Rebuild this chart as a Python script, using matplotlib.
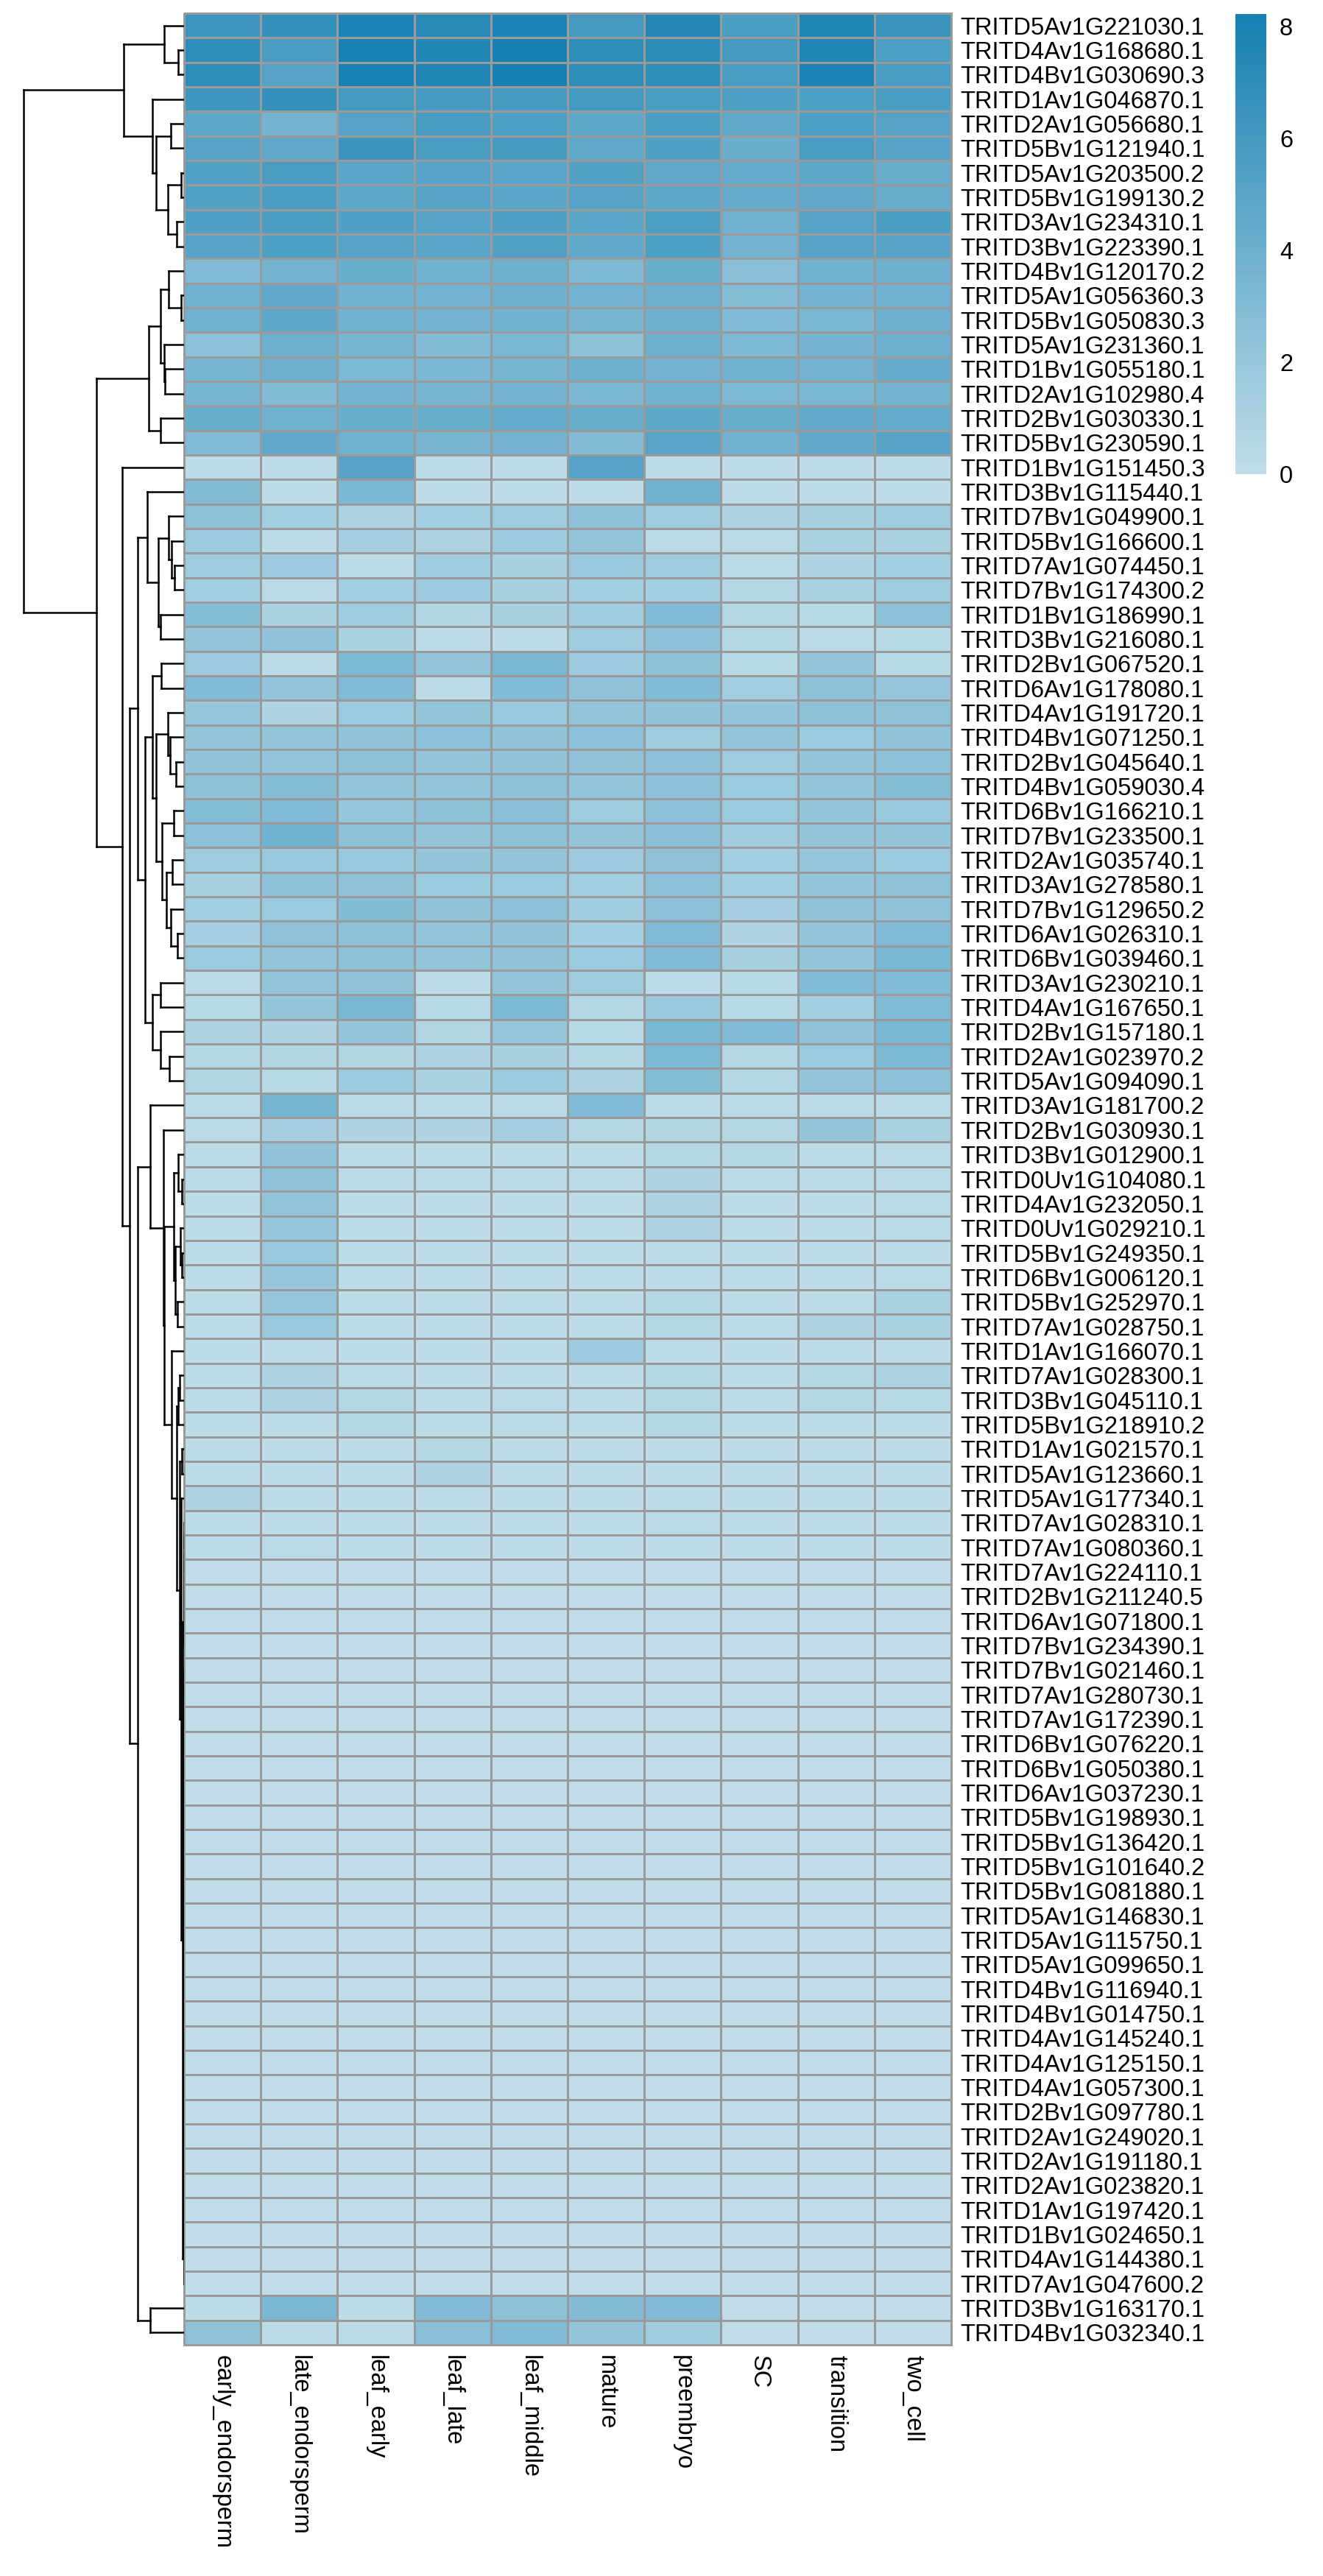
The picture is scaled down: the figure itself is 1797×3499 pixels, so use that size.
import matplotlib
matplotlib.use("Agg")
import matplotlib.pyplot as plt
from matplotlib.colors import LinearSegmentedColormap, Normalize
from matplotlib.collections import LineCollection
from matplotlib.cm import ScalarMappable
import numpy as np

plt.rcParams['font.family'] = ['Liberation Sans', 'DejaVu Sans']

stages = ["early_endorsperm", "late_endorsperm", "leaf_early", "leaf_late",
          "leaf_middle", "mature", "preembryo", "SC", "transition", "two_cell"]

genes = [
    "TRITD5Av1G221030.1", "TRITD4Av1G168680.1", "TRITD4Bv1G030690.3", "TRITD1Av1G046870.1",
    "TRITD2Av1G056680.1", "TRITD5Bv1G121940.1", "TRITD5Av1G203500.2", "TRITD5Bv1G199130.2",
    "TRITD3Av1G234310.1", "TRITD3Bv1G223390.1", "TRITD4Bv1G120170.2", "TRITD5Av1G056360.3",
    "TRITD5Bv1G050830.3", "TRITD5Av1G231360.1", "TRITD1Bv1G055180.1", "TRITD2Av1G102980.4",
    "TRITD2Bv1G030330.1", "TRITD5Bv1G230590.1", "TRITD1Bv1G151450.3", "TRITD3Bv1G115440.1",
    "TRITD7Bv1G049900.1", "TRITD5Bv1G166600.1", "TRITD7Av1G074450.1", "TRITD7Bv1G174300.2",
    "TRITD1Bv1G186990.1", "TRITD3Bv1G216080.1", "TRITD2Bv1G067520.1", "TRITD6Av1G178080.1",
    "TRITD4Av1G191720.1", "TRITD4Bv1G071250.1", "TRITD2Bv1G045640.1", "TRITD4Bv1G059030.4",
    "TRITD6Bv1G166210.1", "TRITD7Bv1G233500.1", "TRITD2Av1G035740.1", "TRITD3Av1G278580.1",
    "TRITD7Bv1G129650.2", "TRITD6Av1G026310.1", "TRITD6Bv1G039460.1", "TRITD3Av1G230210.1",
    "TRITD4Av1G167650.1", "TRITD2Bv1G157180.1", "TRITD2Av1G023970.2", "TRITD5Av1G094090.1",
    "TRITD3Av1G181700.2", "TRITD2Bv1G030930.1", "TRITD3Bv1G012900.1", "TRITD0Uv1G104080.1",
    "TRITD4Av1G232050.1", "TRITD0Uv1G029210.1", "TRITD5Bv1G249350.1", "TRITD6Bv1G006120.1",
    "TRITD5Bv1G252970.1", "TRITD7Av1G028750.1", "TRITD1Av1G166070.1", "TRITD7Av1G028300.1",
    "TRITD3Bv1G045110.1", "TRITD5Bv1G218910.2", "TRITD1Av1G021570.1", "TRITD5Av1G123660.1",
    "TRITD5Av1G177340.1", "TRITD7Av1G028310.1", "TRITD7Av1G080360.1", "TRITD7Av1G224110.1",
    "TRITD2Bv1G211240.5", "TRITD6Av1G071800.1", "TRITD7Bv1G234390.1", "TRITD7Bv1G021460.1",
    "TRITD7Av1G280730.1", "TRITD7Av1G172390.1", "TRITD6Bv1G076220.1", "TRITD6Bv1G050380.1",
    "TRITD6Av1G037230.1", "TRITD5Bv1G198930.1", "TRITD5Bv1G136420.1", "TRITD5Bv1G101640.2",
    "TRITD5Bv1G081880.1", "TRITD5Av1G146830.1", "TRITD5Av1G115750.1", "TRITD5Av1G099650.1",
    "TRITD4Bv1G116940.1", "TRITD4Bv1G014750.1", "TRITD4Av1G145240.1", "TRITD4Av1G125150.1",
    "TRITD4Av1G057300.1", "TRITD2Bv1G097780.1", "TRITD2Av1G249020.1", "TRITD2Av1G191180.1",
    "TRITD2Av1G023820.1", "TRITD1Av1G197420.1", "TRITD1Bv1G024650.1", "TRITD4Av1G144380.1",
    "TRITD7Av1G047600.2", "TRITD3Bv1G163170.1", "TRITD4Bv1G032340.1",
]

# log expression per gene (rows, same order as genes) and stage (columns)
expression = [
    [6.3, 6.8, 7.9, 7.3, 7.9, 6.0, 7.5, 5.6, 7.7, 6.5],
    [7.0, 5.7, 8.0, 7.6, 8.22, 7.0, 7.1, 5.9, 7.7, 5.5],
    [7.0, 5.2, 8.1, 7.7, 8.2, 7.0, 7.0, 5.7, 7.9, 5.7],
    [6.2, 6.7, 6.0, 5.9, 5.9, 6.0, 5.7, 5.4, 5.5, 5.7],
    [4.8, 3.6, 5.2, 5.8, 5.5, 4.8, 5.6, 4.7, 5.5, 5.2],
    [5.1, 4.7, 6.4, 5.7, 5.9, 4.7, 5.4, 4.1, 5.7, 5.1],
    [5.3, 5.7, 4.9, 5.1, 5.0, 5.3, 4.7, 4.3, 4.8, 4.2],
    [5.3, 5.6, 4.8, 5.1, 4.9, 5.2, 4.8, 4.3, 4.6, 4.2],
    [5.4, 5.6, 5.4, 5.1, 5.4, 4.9, 5.5, 3.9, 5.2, 5.6],
    [5.1, 5.5, 5.2, 4.9, 5.3, 4.6, 5.5, 3.7, 5.1, 5.1],
    [3.1, 3.7, 4.1, 3.8, 4.0, 3.2, 4.2, 2.7, 3.8, 4.0],
    [3.8, 4.6, 3.8, 3.7, 4.0, 3.7, 4.0, 2.8, 3.6, 3.9],
    [3.8, 4.8, 3.8, 3.7, 3.8, 3.5, 4.0, 3.0, 3.3, 4.0],
    [2.6, 4.0, 3.5, 2.9, 3.4, 2.5, 4.0, 3.2, 3.6, 4.0],
    [3.5, 4.0, 3.2, 3.3, 3.5, 4.0, 3.7, 3.9, 3.7, 4.3],
    [3.5, 2.9, 3.6, 3.5, 3.7, 3.3, 3.8, 3.2, 3.4, 3.7],
    [4.2, 3.9, 4.1, 4.1, 4.3, 4.2, 4.8, 4.1, 4.5, 4.4],
    [3.0, 4.6, 3.9, 3.5, 3.7, 2.9, 5.0, 3.8, 4.6, 5.1],
    [0.1, 0.1, 5.1, 0.1, 0.1, 5.1, 0.1, 0.1, 0.1, 0.1],
    [2.9, 0.1, 3.3, 0.1, 0.1, 0.1, 3.8, 0.1, 0.1, 0.1],
    [2.5, 1.4, 0.9, 1.4, 1.6, 2.5, 1.6, 0.9, 1.2, 1.5],
    [1.7, 0.2, 1.3, 0.9, 1.7, 2.2, 0.3, 0.3, 1.0, 1.1],
    [1.6, 1.7, 0.2, 1.5, 1.2, 1.9, 1.6, 0.3, 0.8, 1.4],
    [1.4, 0.3, 1.4, 1.7, 1.2, 1.4, 1.4, 0.6, 1.1, 1.6],
    [2.8, 1.0, 1.6, 0.7, 1.2, 1.5, 3.0, 0.6, 0.4, 2.6],
    [2.2, 2.3, 1.0, 0.1, 0.1, 1.5, 2.6, 0.6, 0.3, 0.4],
    [1.7, 0.2, 3.2, 2.2, 3.4, 1.7, 2.5, 0.4, 2.2, 0.4],
    [3.0, 2.1, 3.1, 0.1, 3.0, 2.4, 3.1, 1.4, 2.5, 2.0],
    [2.0, 0.8, 1.8, 2.2, 1.9, 2.2, 2.3, 2.1, 2.5, 2.4],
    [2.2, 2.2, 2.3, 2.6, 2.3, 2.6, 1.5, 2.2, 1.8, 2.3],
    [2.3, 2.2, 2.5, 2.2, 2.3, 2.4, 2.6, 1.6, 2.2, 2.6],
    [2.5, 2.8, 2.2, 2.2, 2.5, 2.2, 2.6, 1.8, 2.1, 2.8],
    [2.8, 3.1, 2.0, 2.5, 2.7, 1.6, 2.6, 1.8, 2.1, 1.9],
    [2.6, 3.8, 2.5, 2.2, 2.5, 2.2, 2.7, 1.5, 2.2, 2.1],
    [1.6, 1.9, 1.9, 2.1, 2.2, 1.7, 2.4, 1.4, 2.0, 1.8],
    [1.2, 2.5, 2.4, 1.8, 1.8, 1.4, 2.6, 1.4, 2.1, 2.4],
    [1.4, 1.8, 2.9, 2.4, 2.6, 1.5, 2.6, 1.3, 2.4, 2.4],
    [1.3, 2.4, 2.5, 2.2, 2.3, 1.4, 3.1, 0.8, 2.2, 3.1],
    [1.8, 2.2, 2.5, 2.2, 2.3, 1.8, 3.1, 1.2, 2.1, 3.4],
    [0.3, 2.2, 2.4, 0.2, 2.2, 1.6, 0.2, 0.4, 3.1, 3.0],
    [0.4, 2.1, 3.4, 0.4, 3.2, 0.5, 1.9, 0.4, 1.4, 3.1],
    [0.9, 0.8, 2.1, 0.7, 2.0, 0.4, 3.4, 3.1, 2.4, 3.4],
    [0.6, 0.7, 0.7, 0.9, 1.2, 0.5, 3.2, 0.5, 1.8, 3.2],
    [0.7, 0.4, 1.8, 1.0, 1.8, 0.9, 2.8, 0.6, 2.2, 2.6],
    [0.3, 3.5, 0.3, 0.2, 0.3, 3.0, 0.2, 0.3, 0.3, 0.2],
    [0.3, 1.3, 0.8, 0.8, 1.3, 0.6, 0.7, 0.5, 2.1, 1.1],
    [0.2, 2.3, 0.2, 0.1, 0.2, 0.1, 0.5, 0.5, 0.2, 0.3],
    [0.2, 2.4, 0.2, 0.2, 0.2, 0.2, 0.8, 0.2, 0.2, 0.3],
    [0.1, 2.2, 0.1, 0.1, 0.1, 0.1, 0.9, 0.1, 0.1, 0.2],
    [0.1, 2.0, 0.1, 0.1, 0.1, 0.1, 0.9, 0.1, 0.1, 0.2],
    [0.1, 1.9, 0.1, 0.1, 0.1, 0.1, 0.2, 0.1, 0.1, 0.1],
    [0.1, 2.0, 0.1, 0.1, 0.1, 0.1, 0.2, 0.2, 0.1, 0.3],
    [0.1, 2.0, 0.1, 0.1, 0.1, 0.1, 0.6, 0.1, 0.1, 1.1],
    [0.1, 1.9, 0.1, 0.1, 0.1, 0.1, 0.6, 0.1, 0.9, 1.0],
    [0.1, 0.1, 0.1, 0.1, 0.1, 1.7, 0.1, 0.1, 0.1, 0.1],
    [0.1, 0.9, 0.1, 0.1, 0.1, 0.1, 0.6, 0.1, 0.6, 0.9],
    [0.1, 0.9, 0.6, 0.1, 0.3, 0.1, 0.6, 0.1, 0.6, 0.4],
    [0.1, 0.1, 0.6, 0.1, 0.3, 0.1, 0.6, 0.1, 0.2, 0.1],
    [0.1, 0.1, 0.1, 0.6, 0.1, 0.1, 0.1, 0.1, 0.1, 0.1],
    [0.1, 0.1, 0.1, 0.8, 0.1, 0.1, 0.1, 0.1, 0.1, 0.1],
    [0.8, 0.1, 0.1, 0.1, 0.1, 0.1, 0.1, 0.1, 0.1, 0.1],
    [0.1, 0.1, 0.1, 0.1, 0.1, 0.1, 0.3, 0.1, 0.1, 0.1],
    [0.1, 0.3, 0.1, 0.1, 0.1, 0.1, 0.1, 0.1, 0.1, 0.1],
    # rows 63-67
    [0, 0, 0, 0, 0, 0, 0, 0, 0, 0],
    [0, 0, 0, 0, 0, 0, 0, 0, 0, 0],
    [0, 0, 0, 0, 0, 0, 0, 0, 0, 0],
    [0, 0, 0, 0, 0, 0, 0, 0, 0, 0],
    [0, 0, 0, 0, 0, 0, 0, 0, 0, 0],
    # rows 68-72
    [0, 0, 0, 0, 0, 0, 0, 0, 0, 0],
    [0, 0, 0, 0, 0, 0, 0, 0, 0, 0],
    [0, 0, 0, 0, 0, 0, 0, 0, 0, 0],
    [0, 0, 0, 0, 0, 0, 0, 0, 0, 0],
    [0, 0, 0, 0, 0, 0, 0, 0, 0, 0],
    # rows 73-77
    [0, 0, 0, 0, 0, 0, 0, 0, 0, 0],
    [0, 0, 0, 0, 0, 0, 0, 0, 0, 0],
    [0, 0, 0, 0, 0, 0, 0, 0, 0, 0],
    [0, 0, 0, 0, 0, 0, 0, 0, 0, 0],
    [0, 0, 0, 0, 0, 0, 0, 0, 0, 0],
    # rows 78-82
    [0, 0, 0, 0, 0, 0, 0, 0, 0, 0],
    [0, 0, 0, 0, 0, 0, 0, 0, 0, 0],
    [0, 0, 0, 0, 0, 0, 0, 0, 0, 0],
    [0, 0, 0, 0, 0, 0, 0, 0, 0, 0],
    [0, 0, 0, 0, 0, 0, 0, 0, 0, 0],
    # rows 83-87
    [0, 0, 0, 0, 0, 0, 0, 0, 0, 0],
    [0, 0, 0, 0, 0, 0, 0, 0, 0, 0],
    [0, 0, 0, 0, 0, 0, 0, 0, 0, 0],
    [0, 0, 0, 0, 0, 0, 0, 0, 0, 0],
    [0, 0, 0, 0, 0, 0, 0, 0, 0, 0],
    # rows 88-92
    [0, 0, 0, 0, 0, 0, 0, 0, 0, 0],
    [0, 0, 0, 0, 0, 0, 0, 0, 0, 0],
    [0, 0, 0, 0, 0, 0, 0, 0, 0, 0],
    [0, 0, 0, 0, 0, 0, 0, 0, 0, 0],
    [0, 0, 0, 0, 0, 0, 0, 0, 0, 0],
    # rows 93-94
    [0.1, 3.3, 0.1, 3.0, 2.5, 2.9, 3.1, 0.0, 0.0, 0.0],
    [2.4, 0.2, 0.2, 2.7, 3.1, 2.2, 1.5, 0.0, 0.0, 0.0],
]


def chain(leaves, height):
    """Left-deep merge of consecutive leaves at one height."""
    leaves = list(leaves)
    node = leaves[0]
    for leaf in leaves[1:]:
        node = (node, leaf, height)
    return node


# row clustering tree: (left, right, merge height); ints are row indices
top_block = ((0, (1, 2, 0.8), 2.7),
             (3, ((4, 5, 1.8), ((6, 7, 0.4), (8, 9, 1.0), 2.2), 3.8), 4.3),
             8.2)
mid_block = (((10, (11, 12, 0.4), 2.1), (13, (14, 15, 2.6), 2.7), 3.2),
             (16, 17, 3.2), 4.8)
branch_19_43 = (
    (19, ((20, (21, (22, 23, 1.3), 1.7), 2.1), (24, 25, 3.2), 3.5), 5.0),
    (((26, 27, 3.1),
      ((28, (29, (30, 31, 1.1), 1.9), 2.2),
       ((32, 33, 1.4), ((34, 35, 1.6), (36, (37, 38, 0.9), 1.8), 2.4), 3.0),
       3.8),
      4.3),
     ((39, 40, 3.2), (41, (42, 43, 2.0), 3.2), 4.3),
     5.3),
    6.3)
zero_rows = (chain(range(61, 67), 0.0), chain(range(67, 93), 0.0), 0.17)
low_block = (
    (44, (45, (
        ((46, (47, 48, 0.3), 0.75), ((49, (50, 51, 0.3), 0.5), (52, 53, 0.85), 1.2), 1.4),
        (54, (((55, 56, 0.6), 57, 0.8),
              ((58, 59, 0.25), (60, zero_rows, 0.4), 0.6), 1.0), 1.7),
        2.7), 2.8), 4.6),
    (93, 94, 4.6),
    6.3)
row_tree = (top_block, (mid_block, (18, (branch_19_43, low_block, 7.4), 8.4), 11.9), 21.8)

# ---- layout (pixels on a 1797 x 3499 canvas) ----
W, H, DPI = 1797, 3499, 100
fig = plt.figure(figsize=(W / DPI, H / DPI), dpi=DPI)
fig.patch.set_facecolor("white")


def box(x0, y0, x1, y1):
    return [x0 / W, 1 - y1 / H, (x1 - x0) / W, (y1 - y0) / H]


hm_left, hm_right, hm_top, hm_bottom = 250, 1292, 18, 3185
ax = fig.add_axes(box(hm_left, hm_top, hm_right, hm_bottom))
axd = fig.add_axes(box(0, hm_top, hm_left, hm_bottom))
cax = fig.add_axes(box(1678, 19, 1720, 644))

data = np.array(expression, dtype=float)
n_rows, n_cols = data.shape
vmin, vmax = 0.0, data.max()
cmap = LinearSegmentedColormap.from_list("blues", ["#C0DDE9", "#1680B2"])

mesh = ax.pcolormesh(np.arange(n_cols + 1), np.arange(n_rows + 1), data,
                     cmap=cmap, vmin=vmin, vmax=vmax,
                     edgecolors="#9A9A9A", linewidth=2.0)
mesh.set_clip_on(False)
ax.set_xlim(0, n_cols)
ax.set_ylim(n_rows, 0)
for s in ax.spines.values():
    s.set_visible(False)

ax.yaxis.tick_right()
ax.set_yticks(np.arange(n_rows) + 0.5)
ax.set_yticklabels(genes, fontsize=23.5)
ax.set_xticks(np.arange(n_cols) + 0.5)
ax.set_xticklabels(stages, fontsize=23.5, rotation=-90, ha="center", va="top")
ax.tick_params(axis="y", length=0, pad=9)
ax.tick_params(axis="x", length=0, pad=10)

# ---- dendrogram ----
segments = []


def draw(node):
    if isinstance(node, (int, np.integer)):
        return node + 0.5, 0.0
    left, right, h = node
    yl, hl = draw(left)
    yr, hr = draw(right)
    segments.append([(hl, yl), (h, yl)])
    segments.append([(hr, yr), (h, yr)])
    segments.append([(h, yl), (h, yr)])
    return (yl + yr) / 2.0, h


draw(row_tree)
axd.add_collection(LineCollection(segments, colors="black", linewidths=1.8,
                                  capstyle="projecting"))
axd.set_xlim(25.0, 0.0)
axd.set_ylim(n_rows, 0)
axd.axis("off")

# ---- colour legend ----
sm = ScalarMappable(norm=Normalize(vmin=vmin, vmax=vmax), cmap=cmap)
cb = fig.colorbar(sm, cax=cax)
cb.outline.set_visible(False)
cb.set_ticks([0, 2, 4, 6, 8])
cb.ax.tick_params(length=0, pad=13, labelsize=23.5)

fig.savefig("out.png", dpi=DPI, facecolor="white")
